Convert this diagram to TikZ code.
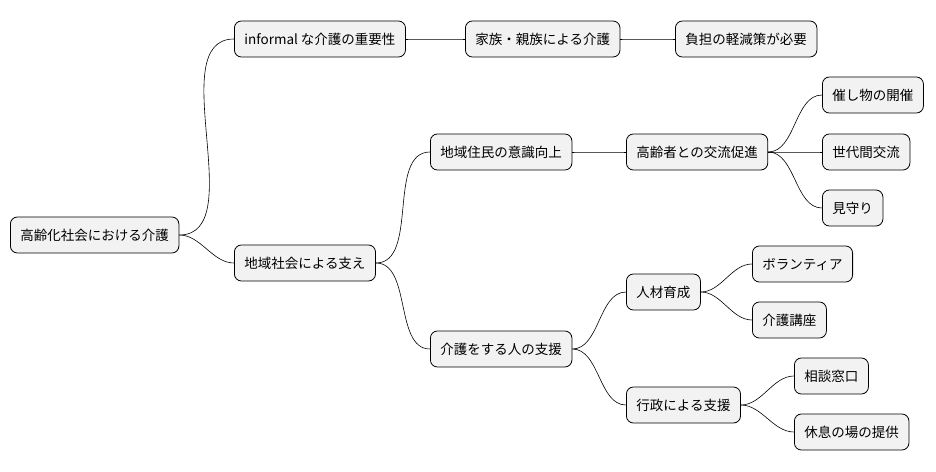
\documentclass[tikz,border=0pt]{standalone}
\usepackage{fontspec}
\setmainfont{Noto Sans CJK JP}
\begin{document}
\begin{tikzpicture}[x=1pt,y=-1pt,
  box/.style={draw=black,fill=black!5,rounded corners=7pt,minimum height=36pt,inner xsep=10pt,anchor=west,font=\fontsize{13.5pt}{15pt}\selectfont,line width=0.8pt},
  ln/.style={draw=black,line width=0.6pt}]
\useasboundingbox (0,0) rectangle (936,471);
\node[box] (r) at (10,235) {高齢化社会における介護};
\node[box] (a) at (234,39) {informal な介護の重要性};
\node[box] (a1) at (465,39) {家族・親族による介護};
\node[box] (a2) at (675,39) {負担の軽減策が必要};
\node[box] (b) at (234,263) {地域社会による支え};
\node[box] (b1) at (430,152) {地域住民の意識向上};
\node[box] (b11) at (626,152) {高齢者との交流促進};
\node[box] (l1) at (822,95) {催し物の開催};
\node[box] (l2) at (822,152) {世代間交流};
\node[box] (l3) at (822,208) {見守り};
\node[box] (b2) at (430,349) {介護をする人の支援};
\node[box] (b21) at (626,292) {人材育成};
\node[box] (l4) at (752,264) {ボランティア};
\node[box] (l5) at (752,320) {介護講座};
\node[box] (b22) at (626,405) {行政による支援};
\node[box] (l6) at (794,376) {相談窓口};
\node[box] (l7) at (794,432) {休息の場の提供};
\foreach \p/\c in {r/a,a/a1,a1/a2,r/b,b/b1,b1/b11,b11/l1,b11/l2,b11/l3,b/b2,b2/b21,b21/l4,b21/l5,b2/b22,b22/l6,b22/l7}
  \draw[ln] (\p.east) to[out=0,in=180,looseness=0.9] (\c.west);
\end{tikzpicture}
\end{document}
